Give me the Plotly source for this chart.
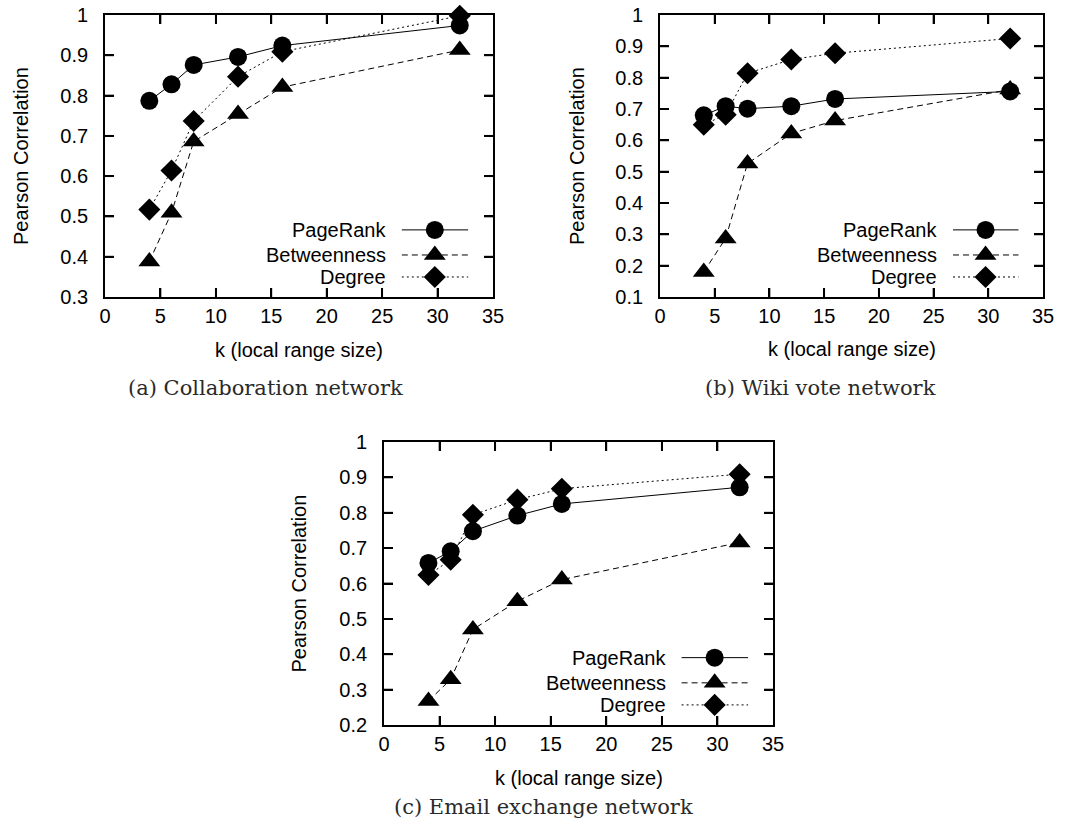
import plotly.graph_objects as go

k_values = [4, 6, 8, 12, 16, 32]
series_names = ["PageRank", "Betweenness", "Degree"]

collab_pagerank = [0.787, 0.828, 0.876, 0.896, 0.924, 0.974]
collab_betweenness = [0.388, 0.509, 0.686, 0.754, 0.821, 0.913]
collab_degree = [0.517, 0.614, 0.737, 0.847, 0.909, 0.998]

wiki_pagerank = [0.680, 0.709, 0.701, 0.709, 0.732, 0.756]
wiki_betweenness = [0.180, 0.287, 0.526, 0.622, 0.663, 0.762]
wiki_degree = [0.650, 0.682, 0.814, 0.858, 0.878, 0.925]

email_pagerank = [0.658, 0.691, 0.748, 0.792, 0.825, 0.872]
email_betweenness = [0.268, 0.329, 0.470, 0.550, 0.611, 0.716]
email_degree = [0.624, 0.667, 0.794, 0.837, 0.868, 0.909]

captions = ["(a) Collaboration network", "(b) Wiki vote network", "(c) Email exchange network"]
x_ticks = [0, 5, 10, 15, 20, 25, 30, 35]
x_title = "k (local range size)"
y_title = "Pearson Correlation"

W, H = 1070, 831
X_RANGE = (0, 35)
TICK_PX = 9
TICK_W = 1.8
panels = [
    dict(px=(105, 493), py=(15, 297), yr=(0.3, 1.0), ytx=21, xty=350,
         data=[collab_pagerank, collab_betweenness, collab_degree], cap=captions[0], capxy=(265, 388)),
    dict(px=(660, 1043), py=(15, 297), yr=(0.1, 1.0), ytx=577, xty=349,
         data=[wiki_pagerank, wiki_betweenness, wiki_degree], cap=captions[1], capxy=(820, 388)),
    dict(px=(384, 773), py=(442, 725), yr=(0.2, 1.0), ytx=298, xty=778,
         data=[email_pagerank, email_betweenness, email_degree], cap=captions[2], capxy=(543, 807)),
]

styles = [
    dict(dash="solid", symbol="circle", size=18),
    dict(dash="6px,4px", symbol="triangle-up", size=19),
    dict(dash="2px,3px", symbol="diamond", size=17),
]

# legend key placement, as fractions of each plot area
KEY_ROWS = [0.238, 0.149, 0.071]
KEY_TEXT_X = 0.729
KEY_LINE_X = (0.765, 0.936)
KEY_MARK_X = 0.85

FONT = "Liberation Sans, Arial, sans-serif"
NBSP = "\u00a0"
fig = go.Figure()
layout = dict(template="none", width=W, height=H, margin=dict(l=0, r=0, t=0, b=0, pad=0),
              paper_bgcolor="white", plot_bgcolor="white", showlegend=False,
              font=dict(family=FONT, size=20, color="black"))
annotations = []
shapes = []


def fx(f):
    return X_RANGE[0] + f * (X_RANGE[1] - X_RANGE[0])


for i, p in enumerate(panels):
    n = i + 1
    sfx = str(n) if n > 1 else ""
    xd = [p["px"][0] / W, p["px"][1] / W]
    yd = [1 - p["py"][1] / H, 1 - p["py"][0] / H]
    ax_common = dict(showgrid=False, zeroline=False, showline=True, linecolor="black",
                     linewidth=1.6, mirror="ticks", ticks="inside", ticklen=TICK_PX,
                     tickcolor="black", tickwidth=TICK_W,
                     tickfont=dict(family=FONT, size=20, color="black"))
    layout["xaxis" + sfx] = dict(
        ax_common, domain=xd, range=list(X_RANGE), tickvals=x_ticks, anchor="y" + sfx)
    yt = [round(p["yr"][0] + 0.1 * j, 1) for j in range(int(round((p["yr"][1] - p["yr"][0]) / 0.1)) + 1)]
    layout["yaxis" + sfx] = dict(
        ax_common, domain=yd, range=list(p["yr"]), tickvals=yt,
        ticktext=[("1" if v == 1.0 else f"{v:.1f}") + NBSP * 2 for v in yt],
        anchor="x" + sfx)

    # tick marks on all four sides (inward), placed in paper space from the axis scales
    x0p, x1p = p["px"]
    y0p, y1p = p["py"]
    for t in x_ticks[1:-1]:
        xp = x0p + (t - X_RANGE[0]) / (X_RANGE[1] - X_RANGE[0]) * (x1p - x0p)
        for ya, yb in ((y1p, y1p - TICK_PX), (y0p, y0p + TICK_PX)):
            shapes.append(dict(type="line", xref="paper", yref="paper",
                               x0=xp / W, x1=xp / W, y0=1 - ya / H, y1=1 - yb / H, layer="above",
                               line=dict(color="black", width=TICK_W)))
    for t in yt[1:-1]:
        ypx = y1p - (t - p["yr"][0]) / (p["yr"][1] - p["yr"][0]) * (y1p - y0p)
        for xa, xb in ((x0p, x0p + TICK_PX), (x1p, x1p - TICK_PX)):
            shapes.append(dict(type="line", xref="paper", yref="paper",
                               x0=xa / W, x1=xb / W, y0=1 - ypx / H, y1=1 - ypx / H, layer="above",
                               line=dict(color="black", width=TICK_W)))

    def fy(f, yr=p["yr"]):
        return yr[0] + f * (yr[1] - yr[0])

    for s, (name, vals) in enumerate(zip(series_names, p["data"])):
        st = styles[s]
        fig.add_trace(go.Scatter(
            x=k_values, y=vals, mode="lines+markers", name=name, xaxis="x" + sfx, yaxis="y" + sfx,
            line=dict(color="black", width=1, dash=st["dash"]),
            marker=dict(symbol=st["symbol"], size=st["size"], color="black"),
            cliponaxis=False))
    # legend key
    for s, name in enumerate(series_names):
        st = styles[s]
        yk = fy(KEY_ROWS[s])
        fig.add_trace(go.Scatter(
            x=[fx(KEY_LINE_X[0]), fx(KEY_LINE_X[1])], y=[yk, yk], mode="lines",
            xaxis="x" + sfx, yaxis="y" + sfx,
            line=dict(color="black", width=1, dash=st["dash"]), hoverinfo="skip"))
        fig.add_trace(go.Scatter(
            x=[fx(KEY_MARK_X)], y=[yk], mode="markers", xaxis="x" + sfx, yaxis="y" + sfx,
            marker=dict(symbol=st["symbol"], size=st["size"], color="black"), hoverinfo="skip"))
        annotations.append(dict(
            x=KEY_TEXT_X, y=KEY_ROWS[s], xref=f"x{sfx} domain", yref=f"y{sfx} domain", text=name,
            showarrow=False, xanchor="right", yanchor="middle",
            font=dict(family=FONT, size=20, color="black")))
    # axis titles
    annotations.append(dict(
        x=(p["px"][0] + p["px"][1]) / 2 / W, y=1 - p["xty"] / H, xref="paper", yref="paper",
        text=x_title, showarrow=False, xanchor="center", yanchor="middle",
        font=dict(family=FONT, size=20, color="black")))
    annotations.append(dict(
        x=p["ytx"] / W, y=1 - (p["py"][0] + p["py"][1]) / 2 / H, xref="paper", yref="paper",
        text=y_title, textangle=-90, showarrow=False, xanchor="center", yanchor="middle",
        font=dict(family=FONT, size=20, color="black")))
    annotations.append(dict(
        x=p["capxy"][0] / W, y=1 - p["capxy"][1] / H, xref="paper", yref="paper",
        text=p["cap"], showarrow=False, xanchor="center", yanchor="middle",
        font=dict(family="DejaVu Serif, serif", size=21, color="#2a2a2a")))

layout["annotations"] = annotations
layout["shapes"] = shapes
fig.update_layout(**layout)
fig.write_html("out.html")
